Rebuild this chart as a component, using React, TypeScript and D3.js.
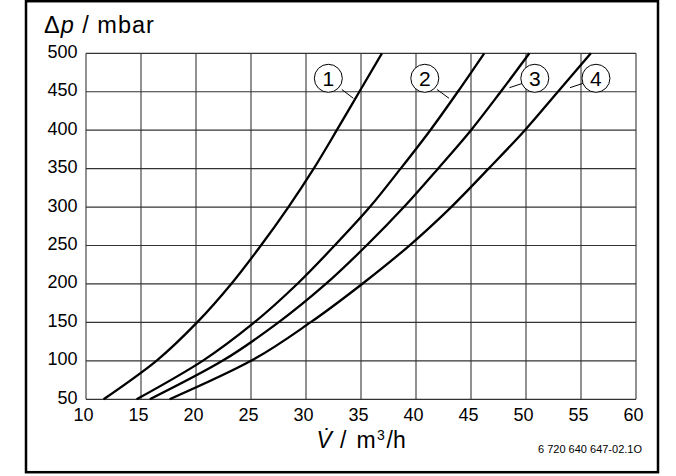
import React from "react";
import * as d3 from "d3";

const pressure = [50, 100, 150, 200, 250, 300, 350, 400, 450, 500];
const curve1 = [11.6, 16.4, 20.1, 23.2, 25.9, 28.4, 30.7, 32.8, 34.85, 36.9];
const curve2 = [14.6, 20.6, 25.3, 29.2, 32.6, 35.8, 38.6, 41.3, 43.8, 46.2];
const curve3 = [15.8, 22.4, 27.5, 31.8, 35.5, 38.9, 42.0, 45.0, 47.7, 50.3];
const curve4 = [17.6, 25.0, 30.4, 35.1, 39.4, 43.2, 46.6, 49.9, 52.9, 55.9];
const seriesLabels = ["1", "2", "3", "4"];
// label circle anchors in data units (V, Δp) and leader end points
const labelPos = [
  { cx: 32.03, cy: 467.5, lx1: 33.25, ly1: 453, lx2: 34.3, ly2: 441.5 },
  { cx: 40.8, cy: 467.5, lx1: 41.9, ly1: 453, lx2: 43.0, ly2: 441.5 },
  { cx: 50.8, cy: 467.5, lx1: 49.7, ly1: 461, lx2: 48.5, ly2: 455.3 },
  { cx: 56.36, cy: 467.5, lx1: 55.2, ly1: 461, lx2: 54.0, ly2: 455.3 },
];
const xTicks = [10, 15, 20, 25, 30, 35, 40, 45, 50, 55, 60];
const yTicks = [50, 100, 150, 200, 250, 300, 350, 400, 450, 500];

const W = 676;
const H = 476;
const left = 86;
const right = 636;
const top = 53.3;
const bottom = 399.3;

export default function App() {
  const x = d3.scaleLinear().domain([10, 60]).range([left, right]);
  const y = d3.scaleLinear().domain([50, 500]).range([bottom, top]);
  const series = [curve1, curve2, curve3, curve4];
  const line = d3
    .line<[number, number]>()
    .x((d) => x(d[0]))
    .y((d) => y(d[1]))
    .curve(d3.curveMonotoneY);
  const font = "'Liberation Sans', Arial, Helvetica, sans-serif";

  return (
    <svg
      width={W}
      height={H}
      style={{ position: "absolute", left: 0, top: 0, background: "#fff" }}
      fontFamily={font}
    >
      <rect x={0} y={0} width={W} height={H} fill="#fff" />
      <rect x={26} y={1.2} width={632} height={471} fill="none" stroke="#000" strokeWidth={2.5} />
      {/* grid */}
      {xTicks.map((t) => (
        <line key={"gx" + t} x1={x(t)} x2={x(t)} y1={top} y2={bottom} stroke="#555" strokeWidth={1.3} />
      ))}
      {yTicks.map((t) => (
        <line key={"gy" + t} x1={left} x2={right} y1={y(t)} y2={y(t)} stroke="#333" strokeWidth={1.2} />
      ))}
      {/* curves */}
      {series.map((s, i) => (
        <path
          key={"c" + i}
          d={line(s.map((v, j) => [v, pressure[j]] as [number, number])) || ""}
          fill="none"
          stroke="#000"
          strokeWidth={2.3}
        />
      ))}
      {/* labels */}
      {labelPos.map((p, i) => (
        <g key={"l" + i}>
          <line x1={x(p.lx1)} y1={y(p.ly1)} x2={x(p.lx2)} y2={y(p.ly2)} stroke="#000" strokeWidth={1} />
          <circle cx={x(p.cx)} cy={y(p.cy)} r={14} fill="#fff" stroke="#000" strokeWidth={1} />
          <text x={x(p.cx)} y={y(p.cy) + 7.5} textAnchor="middle" fontSize={21}>
            {seriesLabels[i]}
          </text>
        </g>
      ))}
      {/* y tick labels */}
      {yTicks.map((t) => (
        <text key={"ty" + t} x={77.5} y={y(t) + 4.5} textAnchor="end" fontSize={18}>
          {t}
        </text>
      ))}
      {/* x tick labels */}
      {xTicks.map((t) => (
        <text key={"tx" + t} x={x(t) - 2.5} y={421} textAnchor="middle" fontSize={18}>
          {t}
        </text>
      ))}
      {/* y axis title */}
      <text x={44} y={33.3} fontSize={23.5} letterSpacing={1}>
        Δ<tspan fontStyle="italic">p</tspan> / mbar
      </text>
      {/* x axis title */}
      <text y={448} fontSize={23}>
        <tspan x={316.5} fontStyle="italic">V̇</tspan>
        <tspan x={340}>/</tspan>
        <tspan x={356.5}>m</tspan>
        <tspan x={377} fontSize={14} dy={-8}>3</tspan>
        <tspan x={386.5} dy={8}>/h</tspan>
      </text>
      <text x={642} y={452.5} textAnchor="end" fontSize={11}>
        6 720 640 647-02.1O
      </text>
    </svg>
  );
}
